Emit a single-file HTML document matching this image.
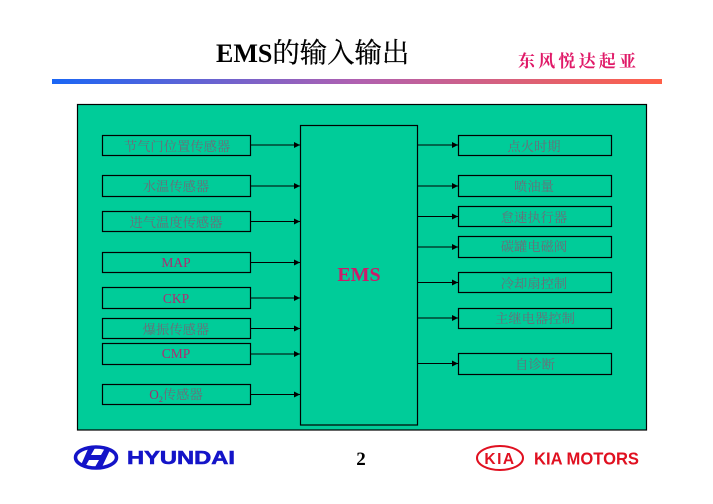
<!DOCTYPE html>
<html><head><meta charset="utf-8">
<style>
html,body{margin:0;padding:0;background:#fff;width:713px;height:504px;overflow:hidden}
svg{display:block}
.cj{font-family:"Liberation Serif","Noto Serif CJK SC",serif;font-size:13.3px;fill:#6f6a78;text-anchor:middle}
.la{font-family:"Liberation Serif",serif;font-size:13.5px;fill:#b02a72;text-anchor:middle}
</style></head><body>
<svg width="713" height="504" viewBox="0 0 713 504" xmlns="http://www.w3.org/2000/svg">
<defs>
<linearGradient id="g" x1="0" x2="1" y1="0" y2="0">
<stop offset="0" stop-color="#1a66f5"/><stop offset=".5" stop-color="#b060b0"/><stop offset="1" stop-color="#ff6048"/>
</linearGradient>
<marker id="a" markerWidth="7" markerHeight="7" refX="6" refY="3" orient="auto" markerUnits="userSpaceOnUse"><path d="M0 0L6 3L0 6z" fill="#000"/></marker>
</defs>
<text x="216" y="62" font-family="'Liberation Serif','Noto Serif CJK SC',serif" font-size="27.4" fill="#000" stroke="#000" stroke-width=".25"><tspan font-size="26" font-weight="700" stroke="none">EMS</tspan>的输入输出</text>
<text x="518" y="67" font-family="'Noto Serif CJK SC',serif" font-size="17" font-weight="700" fill="#e01a68" letter-spacing="3.2">东风悦达起亚</text>
<rect x="52" y="79" width="610" height="5" fill="url(#g)"/>
<rect x="77.5" y="104.5" width="569" height="325.5" fill="#00cc99" stroke="#000" stroke-width="1.2"/>
<rect x="300.5" y="125.5" width="117" height="299.5" fill="#00cc99" stroke="#000" stroke-width="1.2"/>
<text x="359" y="281" font-family="'Liberation Serif',serif" font-size="20" font-weight="700" fill="#cc1a6a" text-anchor="middle">EMS</text>
<g fill="none" stroke="#000" stroke-width="1.2">
<rect x="102.5" y="135.5" width="148" height="20"/>
<rect x="102.5" y="175.5" width="148" height="21"/>
<rect x="102.5" y="211.5" width="148" height="20"/>
<rect x="102.5" y="252.5" width="148" height="20"/>
<rect x="102.5" y="287.5" width="148" height="21"/>
<rect x="102.5" y="318.5" width="148" height="20"/>
<rect x="102.5" y="343.5" width="148" height="21"/>
<rect x="102.5" y="384.5" width="148" height="20"/>
<rect x="458.5" y="135.5" width="153" height="20"/>
<rect x="458.5" y="175.5" width="153" height="21"/>
<rect x="458.5" y="206.5" width="153" height="20"/>
<rect x="458.5" y="236.5" width="153" height="21"/>
<rect x="458.5" y="272.5" width="153" height="20"/>
<rect x="458.5" y="308.5" width="153" height="20"/>
<rect x="458.5" y="353.5" width="153" height="21"/>
</g>
<g stroke="#000" stroke-width="1">
<line x1="250" y1="145" x2="300" y2="145" marker-end="url(#a)"/>
<line x1="250" y1="186" x2="300" y2="186" marker-end="url(#a)"/>
<line x1="250" y1="221.5" x2="300" y2="221.5" marker-end="url(#a)"/>
<line x1="250" y1="262.5" x2="300" y2="262.5" marker-end="url(#a)"/>
<line x1="250" y1="298" x2="300" y2="298" marker-end="url(#a)"/>
<line x1="250" y1="328.5" x2="300" y2="328.5" marker-end="url(#a)"/>
<line x1="250" y1="354" x2="300" y2="354" marker-end="url(#a)"/>
<line x1="250" y1="394.5" x2="300" y2="394.5" marker-end="url(#a)"/>
<line x1="417" y1="145" x2="458" y2="145" marker-end="url(#a)"/>
<line x1="417" y1="186" x2="458" y2="186" marker-end="url(#a)"/>
<line x1="417" y1="216.5" x2="458" y2="216.5" marker-end="url(#a)"/>
<line x1="417" y1="247" x2="458" y2="247" marker-end="url(#a)"/>
<line x1="417" y1="282.5" x2="458" y2="282.5" marker-end="url(#a)"/>
<line x1="417" y1="318" x2="458" y2="318" marker-end="url(#a)"/>
<line x1="417" y1="363.5" x2="458" y2="363.5" marker-end="url(#a)"/>
</g>
<text class="cj" x="177" y="151">节气门位置传感器</text>
<text class="cj" x="176" y="191">水温传感器</text>
<text class="cj" x="176" y="227">进气温度传感器</text>
<text class="la" x="176" y="267">MAP</text>
<text class="la" x="176" y="303">CKP</text>
<text class="cj" x="176" y="334">爆振传感器</text>
<text class="la" x="176" y="358">CMP</text>
<text class="cj" x="176" y="399"><tspan fill="#a03070">O</tspan><tspan fill="#a03070" font-size="8" dy="3">2</tspan><tspan dy="-3">传感器</tspan></text>
<text class="cj" x="534" y="151">点火时期</text>
<text class="cj" x="534" y="191">喷油量</text>
<text class="cj" x="534" y="222">怠速执行器</text>
<text class="cj" x="534" y="251">碳罐电磁阀</text>
<text class="cj" x="534" y="288">冷却扇控制</text>
<text class="cj" x="535" y="323">主继电器控制</text>
<text class="cj" x="535" y="369">自诊断</text>
<text x="361" y="465" font-family="'Liberation Serif',serif" font-size="19" font-weight="700" fill="#000" text-anchor="middle">2</text>
<!-- Hyundai logo -->
<ellipse cx="96" cy="457.5" rx="20.5" ry="10.5" fill="none" stroke="#1414c8" stroke-width="3.5"/>
<path d="M88 449L95 448L91 455L101 455L105 448L110 450L102 467L95 467L99 460L89 460L85 467L81 465z" fill="#1414c8"/>
<text x="127" y="464" font-family="'Liberation Sans',sans-serif" font-size="18.5" font-weight="700" fill="#1414c8" textLength="108" lengthAdjust="spacingAndGlyphs" stroke="#1414c8" stroke-width=".6">HYUNDAI</text>
<!-- Kia logo -->
<ellipse cx="500" cy="458" rx="23" ry="12" fill="none" stroke="#e01020" stroke-width="2"/>
<text x="500" y="464" font-family="'Liberation Sans',sans-serif" font-size="15.5" font-weight="700" fill="#e01020" text-anchor="middle" letter-spacing="1.5">KIA</text>
<text x="534" y="464.5" font-family="'Liberation Sans',sans-serif" font-size="17.5" font-weight="700" fill="#e01020" textLength="105" lengthAdjust="spacingAndGlyphs">KIA MOTORS</text>
</svg>
</body></html>
